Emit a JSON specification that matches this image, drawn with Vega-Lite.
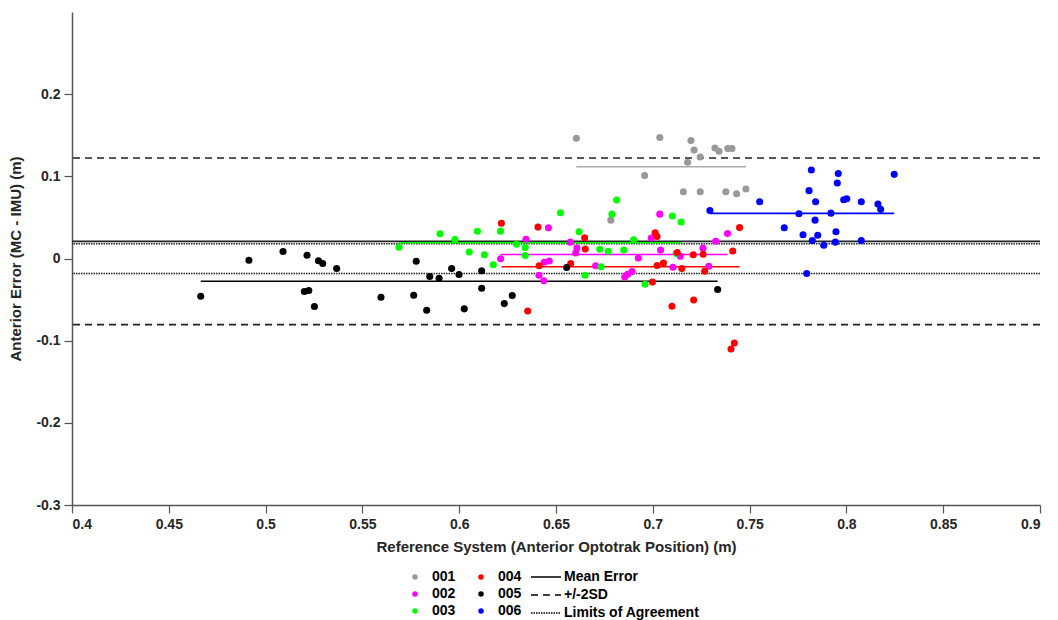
{
  "$schema": "https://vega.github.io/schema/vega-lite/v6.json",
  "width": 968,
  "height": 493,
  "autosize": {"type": "none"},
  "padding": {"left": 72, "top": 12, "right": 18, "bottom": 115},
  "background": "white",
  "config": {
    "view": {"stroke": null},
    "font": "Liberation Sans",
    "axis": {
      "grid": false,
      "domainColor": "#555555",
      "domainWidth": 1.5,
      "tickColor": "#555555",
      "tickWidth": 1.2,
      "tickSize": 8,
      "labelFont": "Liberation Sans",
      "labelFontSize": 14,
      "labelFontWeight": "bold",
      "labelColor": "#262626",
      "titleFont": "Liberation Sans",
      "titleFontSize": 15,
      "titleFontWeight": "bold",
      "titleColor": "#262626"
    },
    "legend": {
      "labelFont": "Liberation Sans",
      "labelFontSize": 14,
      "labelFontWeight": "bold",
      "labelColor": "#000000"
    }
  },
  "datasets": {
    "points": [
      {"subject": "001", "x": 0.6605, "y": 0.1463},
      {"subject": "001", "x": 0.7036, "y": 0.1472},
      {"subject": "001", "x": 0.7197, "y": 0.1435},
      {"subject": "001", "x": 0.7213, "y": 0.1321},
      {"subject": "001", "x": 0.7245, "y": 0.1235},
      {"subject": "001", "x": 0.7180, "y": 0.1171},
      {"subject": "001", "x": 0.7321, "y": 0.1345},
      {"subject": "001", "x": 0.7342, "y": 0.1305},
      {"subject": "001", "x": 0.7387, "y": 0.1338},
      {"subject": "001", "x": 0.7409, "y": 0.1338},
      {"subject": "001", "x": 0.6958, "y": 0.1009},
      {"subject": "001", "x": 0.7158, "y": 0.0813},
      {"subject": "001", "x": 0.7245, "y": 0.0813},
      {"subject": "001", "x": 0.7377, "y": 0.0813},
      {"subject": "001", "x": 0.7433, "y": 0.0789},
      {"subject": "001", "x": 0.7481, "y": 0.0845},
      {"subject": "001", "x": 0.6783, "y": 0.0467},
      {"subject": "002", "x": 0.6214, "y": -0.0004},
      {"subject": "002", "x": 0.6345, "y": 0.0235},
      {"subject": "002", "x": 0.6461, "y": 0.0374},
      {"subject": "002", "x": 0.6439, "y": -0.0045},
      {"subject": "002", "x": 0.6465, "y": -0.0030},
      {"subject": "002", "x": 0.6412, "y": -0.0204},
      {"subject": "002", "x": 0.6437, "y": -0.0271},
      {"subject": "002", "x": 0.6574, "y": 0.0199},
      {"subject": "002", "x": 0.6608, "y": 0.0128},
      {"subject": "002", "x": 0.6602, "y": 0.0067},
      {"subject": "002", "x": 0.6705, "y": -0.0088},
      {"subject": "002", "x": 0.6925, "y": 0.0006},
      {"subject": "002", "x": 0.6855, "y": -0.0226},
      {"subject": "002", "x": 0.6870, "y": -0.0193},
      {"subject": "002", "x": 0.6893, "y": -0.0159},
      {"subject": "002", "x": 0.6992, "y": 0.0250},
      {"subject": "002", "x": 0.7036, "y": 0.0540},
      {"subject": "002", "x": 0.7040, "y": 0.0104},
      {"subject": "002", "x": 0.7142, "y": 0.0027},
      {"subject": "002", "x": 0.7104, "y": -0.0106},
      {"subject": "002", "x": 0.7259, "y": 0.0126},
      {"subject": "002", "x": 0.7289, "y": -0.0095},
      {"subject": "002", "x": 0.7325, "y": 0.0211},
      {"subject": "002", "x": 0.7386, "y": 0.0305},
      {"subject": "003", "x": 0.5689, "y": 0.0138},
      {"subject": "003", "x": 0.5901, "y": 0.0301},
      {"subject": "003", "x": 0.5978, "y": 0.0232},
      {"subject": "003", "x": 0.6052, "y": 0.0079},
      {"subject": "003", "x": 0.6094, "y": 0.0332},
      {"subject": "003", "x": 0.6130, "y": 0.0045},
      {"subject": "003", "x": 0.6176, "y": -0.0077},
      {"subject": "003", "x": 0.6213, "y": 0.0333},
      {"subject": "003", "x": 0.6296, "y": 0.0174},
      {"subject": "003", "x": 0.6341, "y": 0.0134},
      {"subject": "003", "x": 0.6341, "y": 0.0037},
      {"subject": "003", "x": 0.6523, "y": 0.0557},
      {"subject": "003", "x": 0.6619, "y": 0.0326},
      {"subject": "003", "x": 0.6813, "y": 0.0711},
      {"subject": "003", "x": 0.6789, "y": 0.0540},
      {"subject": "003", "x": 0.6650, "y": -0.0204},
      {"subject": "003", "x": 0.6726, "y": 0.0112},
      {"subject": "003", "x": 0.6733, "y": -0.0101},
      {"subject": "003", "x": 0.6770, "y": 0.0088},
      {"subject": "003", "x": 0.6850, "y": 0.0104},
      {"subject": "003", "x": 0.6901, "y": 0.0229},
      {"subject": "003", "x": 0.7101, "y": 0.0518},
      {"subject": "003", "x": 0.7146, "y": 0.0445},
      {"subject": "003", "x": 0.6960, "y": -0.0313},
      {"subject": "003", "x": 0.7121, "y": 0.0061},
      {"subject": "004", "x": 0.6218, "y": 0.0430},
      {"subject": "004", "x": 0.6407, "y": 0.0382},
      {"subject": "004", "x": 0.6413, "y": -0.0089},
      {"subject": "004", "x": 0.6354, "y": -0.0638},
      {"subject": "004", "x": 0.6576, "y": -0.0061},
      {"subject": "004", "x": 0.6648, "y": 0.0252},
      {"subject": "004", "x": 0.6651, "y": 0.0116},
      {"subject": "004", "x": 0.7012, "y": 0.0313},
      {"subject": "004", "x": 0.7022, "y": 0.0268},
      {"subject": "004", "x": 0.7022, "y": -0.0085},
      {"subject": "004", "x": 0.6998, "y": -0.0287},
      {"subject": "004", "x": 0.7055, "y": -0.0055},
      {"subject": "004", "x": 0.7126, "y": 0.0073},
      {"subject": "004", "x": 0.7150, "y": -0.0122},
      {"subject": "004", "x": 0.7209, "y": 0.0046},
      {"subject": "004", "x": 0.7260, "y": 0.0052},
      {"subject": "004", "x": 0.7268, "y": -0.0155},
      {"subject": "004", "x": 0.7099, "y": -0.0582},
      {"subject": "004", "x": 0.7211, "y": -0.0506},
      {"subject": "004", "x": 0.7413, "y": 0.0091},
      {"subject": "004", "x": 0.7448, "y": 0.0376},
      {"subject": "004", "x": 0.7421, "y": -0.1028},
      {"subject": "004", "x": 0.7404, "y": -0.1101},
      {"subject": "005", "x": 0.4665, "y": -0.0460},
      {"subject": "005", "x": 0.4914, "y": -0.0021},
      {"subject": "005", "x": 0.5090, "y": 0.0085},
      {"subject": "005", "x": 0.5214, "y": 0.0040},
      {"subject": "005", "x": 0.5273, "y": -0.0027},
      {"subject": "005", "x": 0.5295, "y": -0.0061},
      {"subject": "005", "x": 0.5367, "y": -0.0122},
      {"subject": "005", "x": 0.5200, "y": -0.0402},
      {"subject": "005", "x": 0.5223, "y": -0.0390},
      {"subject": "005", "x": 0.5252, "y": -0.0585},
      {"subject": "005", "x": 0.5596, "y": -0.0472},
      {"subject": "005", "x": 0.5765, "y": -0.0448},
      {"subject": "005", "x": 0.5778, "y": -0.0033},
      {"subject": "005", "x": 0.5832, "y": -0.0630},
      {"subject": "005", "x": 0.5848, "y": -0.0220},
      {"subject": "005", "x": 0.5896, "y": -0.0240},
      {"subject": "005", "x": 0.5961, "y": -0.0122},
      {"subject": "005", "x": 0.5999, "y": -0.0195},
      {"subject": "005", "x": 0.6026, "y": -0.0613},
      {"subject": "005", "x": 0.6116, "y": -0.0150},
      {"subject": "005", "x": 0.6116, "y": -0.0362},
      {"subject": "005", "x": 0.6233, "y": -0.0549},
      {"subject": "005", "x": 0.6274, "y": -0.0451},
      {"subject": "005", "x": 0.6555, "y": -0.0110},
      {"subject": "005", "x": 0.7335, "y": -0.0378},
      {"subject": "006", "x": 0.7295, "y": 0.0585},
      {"subject": "006", "x": 0.7552, "y": 0.0691},
      {"subject": "006", "x": 0.7679, "y": 0.0374},
      {"subject": "006", "x": 0.7819, "y": 0.1077},
      {"subject": "006", "x": 0.7958, "y": 0.1033},
      {"subject": "006", "x": 0.8247, "y": 0.1024},
      {"subject": "006", "x": 0.7953, "y": 0.0918},
      {"subject": "006", "x": 0.7807, "y": 0.0826},
      {"subject": "006", "x": 0.7841, "y": 0.0691},
      {"subject": "006", "x": 0.7986, "y": 0.0716},
      {"subject": "006", "x": 0.8002, "y": 0.0728},
      {"subject": "006", "x": 0.8077, "y": 0.0691},
      {"subject": "006", "x": 0.8163, "y": 0.0662},
      {"subject": "006", "x": 0.8177, "y": 0.0598},
      {"subject": "006", "x": 0.7755, "y": 0.0545},
      {"subject": "006", "x": 0.7920, "y": 0.0552},
      {"subject": "006", "x": 0.7838, "y": 0.0467},
      {"subject": "006", "x": 0.7776, "y": 0.0289},
      {"subject": "006", "x": 0.7852, "y": 0.0284},
      {"subject": "006", "x": 0.7946, "y": 0.0326},
      {"subject": "006", "x": 0.7824, "y": 0.0220},
      {"subject": "006", "x": 0.7883, "y": 0.0162},
      {"subject": "006", "x": 0.7943, "y": 0.0199},
      {"subject": "006", "x": 0.8077, "y": 0.0220},
      {"subject": "006", "x": 0.7795, "y": -0.0183}
    ],
    "means": [
      {"subject": "001", "x1": 0.6605, "x2": 0.7481, "y": 0.1117},
      {"subject": "002", "x1": 0.6214, "x2": 0.7386, "y": 0.0048},
      {"subject": "003", "x1": 0.5689, "x2": 0.7146, "y": 0.0192},
      {"subject": "004", "x1": 0.6218, "x2": 0.7448, "y": -0.0100},
      {"subject": "005", "x1": 0.4665, "x2": 0.7335, "y": -0.0277},
      {"subject": "006", "x1": 0.7295, "x2": 0.8247, "y": 0.0549}
    ],
    "overall": [
      {"type": "Mean Error", "y": 0.0208},
      {"type": "+/-2SD", "y": 0.1223},
      {"type": "+/-2SD", "y": -0.0805},
      {"type": "Limits of Agreement", "y": 0.0179},
      {"type": "Limits of Agreement", "y": -0.0183}
    ]
  },
  "layer": [
    {
      "data": {"name": "overall"},
      "mark": {"type": "rule", "color": "#222222", "strokeWidth": 1.6},
      "encoding": {
        "y": {
          "field": "y", "type": "quantitative",
          "scale": {"domain": [-0.3, 0.3], "nice": false, "zero": false},
          "axis": {
            "title": "Anterior Error (MC - IMU) (m)",
            "values": [-0.3, -0.2, -0.1, 0, 0.1, 0.2],
            "format": "~g",
            "labelExpr": "replace(datum.label, '\u2212', '-')",
            "labelPadding": 4,
            "titlePadding": 12
          }
        },
        "strokeDash": {
          "field": "type", "type": "nominal",
          "scale": {
            "domain": ["Mean Error", "+/-2SD", "Limits of Agreement"],
            "range": [[1, 0], [7, 5], [1.5, 1]]
          },
          "legend": {
            "title": null,
            "orient": "none",
            "legendX": 467,
            "legendY": 558,
            "symbolType": "M-2.5,0H2.5",
            "symbolSize": 144,
            "symbolStrokeColor": "#000000",
            "symbolStrokeWidth": 1.5,
            "rowPadding": 4,
            "labelOffset": 11
          }
        }
      }
    },
    {
      "data": {"name": "means"},
      "mark": {"type": "rule", "strokeWidth": 1.6},
      "encoding": {
        "x": {"field": "x1", "type": "quantitative"},
        "x2": {"field": "x2"},
        "y": {"field": "y", "type": "quantitative"},
        "stroke": {
          "field": "subject", "type": "nominal",
          "scale": {
            "domain": ["006", "005", "004", "003", "002", "001"],
            "range": ["#0000ff", "#000000", "#ff0000", "#00ff00", "#ff00ff", "#aaaaaa"]
          },
          "legend": null
        }
      }
    },
    {
      "data": {"name": "points"},
      "mark": {"type": "circle", "size": 50, "opacity": 1},
      "encoding": {
        "x": {
          "field": "x", "type": "quantitative",
          "scale": {"domain": [0.4, 0.9], "nice": false, "zero": false},
          "axis": {
            "title": "Reference System (Anterior Optotrak Position) (m)",
            "values": [0.4, 0.45, 0.5, 0.55, 0.6, 0.65, 0.7, 0.75, 0.8, 0.85, 0.9],
            "format": "~g",
            "labelPadding": 4,
            "titlePadding": 8
          }
        },
        "y": {"field": "y", "type": "quantitative"},
        "color": {
          "field": "subject", "type": "nominal",
          "scale": {
            "domain": ["001", "002", "003", "004", "005", "006"],
            "range": ["#999999", "#ff00ff", "#00ff00", "#ff0000", "#000000", "#0000ff"]
          },
          "legend": {
            "title": null,
            "orient": "none",
            "legendX": 336,
            "legendY": 558,
            "columns": 2,
            "symbolType": "circle",
            "symbolSize": 30,
            "rowPadding": 3,
            "columnPadding": 18,
            "labelOffset": 10
          }
        }
      }
    }
  ]
}
